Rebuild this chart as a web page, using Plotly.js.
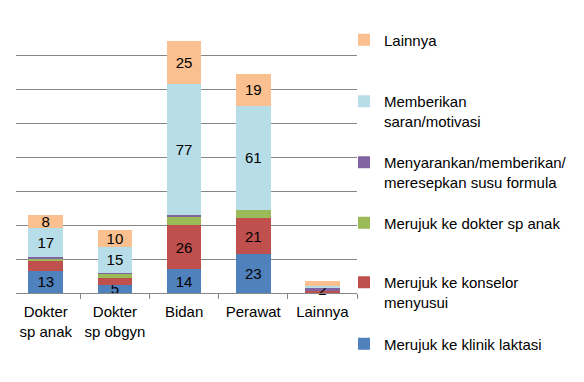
<!DOCTYPE html>
<html>
<head>
<meta charset="utf-8">
<script src="https://cdn.plot.ly/plotly-3.0.1.min.js"></script>
<style>html,body{margin:0;padding:0;background:#fff;}#chart{width:584px;height:382px;}</style>
</head>
<body>
<div id="chart"></div>
<script>
// Categories (x tick labels)
const categories = ["Dokter<br>sp anak", "Dokter<br>sp obgyn", "Bidan", "Perawat", "Lainnya"];

// Series values (stacked bottom to top)
const klinikLaktasi   = [13, 5, 14, 23, 0];
const konselor        = [6, 4, 26, 21, 1];
const dokterSpAnak    = [1, 2, 5, 5, 0];
const susuFormula     = [1, 1, 1, 0, 2];
const saranMotivasi   = [17, 15, 77, 61, 1];
const lainnya         = [8, 10, 25, 19, 3];

// Data labels shown on the chart
const lblKlinik   = ["13", "5", "14", "23", ""];
const lblKonselor = ["", "", "26", "21", ""];
const lblDokter   = ["", "", "", "", ""];
const lblSusu     = ["", "", "", "", "2"];
const lblSaran    = ["17", "15", "77", "61", ""];
const lblLainnya  = ["8", "10", "25", "19", ""];

// Series names
const names = [
  "Merujuk ke klinik laktasi",
  "Merujuk ke konselor<br>menyusui",
  "Merujuk ke dokter sp anak",
  "Menyarankan/memberikan/<br>meresepkan susu formula",
  "Memberikan<br>saran/motivasi",
  "Lainnya"
];

const colors = ["#4F81BD", "#C0504D", "#9BBB59", "#8064A2", "#B7DEE8", "#FAC08F"];
const series = [klinikLaktasi, konselor, dokterSpAnak, susuFormula, saranMotivasi, lainnya];
const labels = [lblKlinik, lblKonselor, lblDokter, lblSusu, lblSaran, lblLainnya];
const legendIds = ["legend6", "legend5", "legend4", "legend3", "legend2", "legend"];

const FONT = "Liberation Sans, Arial, sans-serif";

const traces = series.map((vals, i) => ({
  type: "bar",
  x: categories,
  y: vals,
  name: names[i],
  text: labels[i],
  textposition: "inside",
  insidetextanchor: "middle",
  textangle: 0,
  constraintext: "none",
  cliponaxis: false,
  textfont: {family: FONT, size: 15, color: "#000"},
  insidetextfont: {family: FONT, size: 15, color: "#000"},
  marker: {color: colors[i], line: {width: 0}},
  legend: legendIds[i],
  hoverinfo: "skip"
}));

// plot area: x 16..357, y 21..293
const L = 16, R = 357, T = 21, B = 293;
const pw = R - L, ph = B - T;
function lx(px) { return (px - L) / pw; }
function ly(py) { return (B - py) / ph; }

const legendX = lx(344);
function mkLegend(centerY) {
  return {
    x: legendX, xanchor: "left",
    y: ly(centerY), yanchor: "middle",
    valign: "top",
    bgcolor: "rgba(0,0,0,0)",
    borderwidth: 0,
    font: {family: FONT, size: 15, color: "#000"}
  };
}

const layout = {
  width: 584, height: 382,
  margin: {l: L, r: 584 - R, t: T, b: 382 - B, pad: 0},
  paper_bgcolor: "#fff",
  plot_bgcolor: "#fff",
  barmode: "stack",
  bargap: 0.5,
  showlegend: true,
  font: {family: FONT, size: 15, color: "#000"},
  xaxis: {
    type: "category",
    range: [-0.43, 4.5],
    showline: true, linecolor: "#868686", linewidth: 1,
    ticks: "outside", ticklen: 5, tickcolor: "#868686", tickwidth: 1,
    tickson: "boundaries",
    tickangle: 0,
    ticklabelstandoff: 5,
    showgrid: false, zeroline: false,
    tickfont: {family: FONT, size: 15, color: "#000"},
    fixedrange: true
  },
  yaxis: {
    range: [0, 160],
    tickvals: [20, 40, 60, 80, 100, 120, 140],
    showticklabels: false,
    showgrid: true, gridcolor: "#868686", gridwidth: 1,
    zeroline: false, showline: false, ticks: "",
    fixedrange: true
  },
  legend: mkLegend(40),
  legend2: mkLegend(111),
  legend3: mkLegend(172),
  legend4: mkLegend(223),
  legend5: mkLegend(292),
  legend6: mkLegend(344)
};

Plotly.newPlot("chart", traces, layout, {displayModeBar: false, staticPlot: true});
</script>
</body>
</html>
